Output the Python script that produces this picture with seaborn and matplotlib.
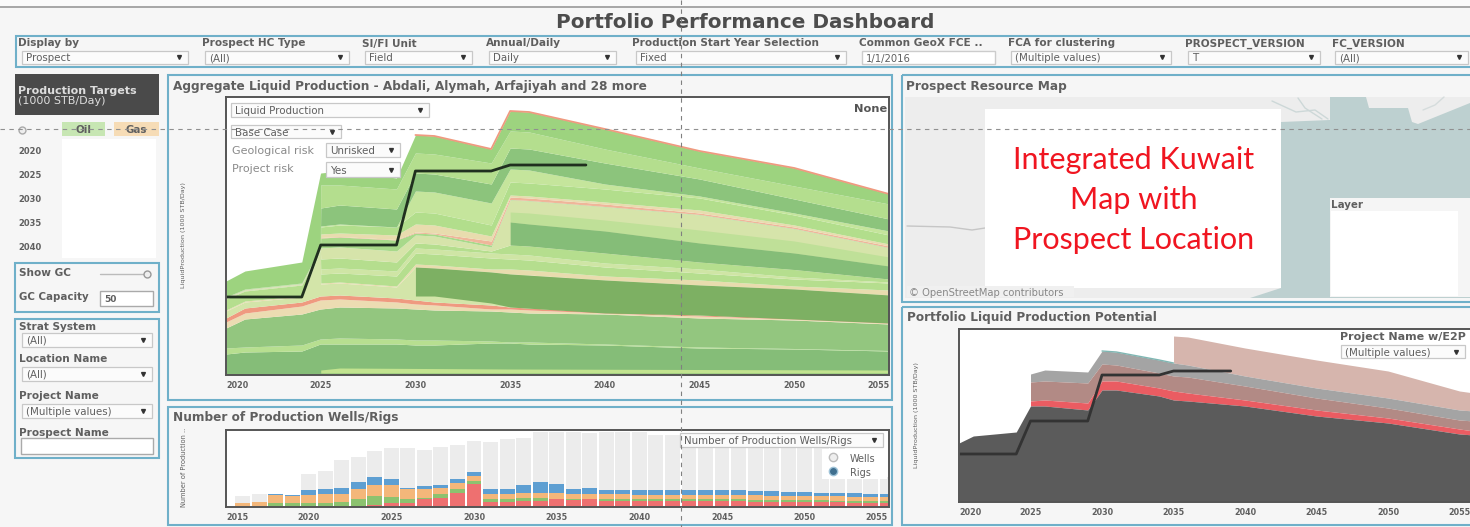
import matplotlib
matplotlib.use('Agg')
import matplotlib.pyplot as plt
from matplotlib.patches import Rectangle, Polygon
import numpy as np
import seaborn as sns

# ---- main chart, values (boundary heights of the stacked layers)
# 2024.98 is there so the layers start with a straight edge at 2025
years = [2020, 2021, 2024, 2024.98, 2025, 2026, 2029, 2030, 2031, 2034, 2035, 2036, 2040, 2045, 2050, 2055]
liq_a = [21, 23, 24, 31, 31, 31, 31, 30, 30, 32, 32, 31, 30, 27, 26, 24]
liq_b = [27, 28, 30, 36, 36, 37, 36, 35, 35, 34, 33, 33, 31, 28, 26.5, 24.5]
liq_c = [47, 56, 61, 66, 66, 68, 67, 66, 65, 64, 63, 62, 61, 57, 55, 51]
liq_d = [53, 62, 69, 75, 75, 76, 73, 71, 70, 66, 66, 65, 62, 59, 56, 52]
liq_e = [57, 67, 73, 79, 79, 80, 77, 75, 73, 70, 68, 67, 63, 60, 57, 53]
liq_f = [64, 73, 78, 125, 91, 92, 88, 108, 107, 103, 101, 100, 95, 90, 86, 80]
liq_g = [65, 74, 79, 125.2, 92, 93, 89, 111, 110, 106, 106, 105, 99, 95, 89, 85]
liq_h = [76, 84, 90, 125.4, 101, 102, 99, 122, 121, 117, 116, 115, 108, 102, 96, 92]
liq_i = [76.2, 84.2, 90.2, 125.6, 106, 107, 104, 127, 126, 122, 121, 120, 112, 106, 98, 93]
liq_j = [76.4, 84.4, 90.4, 125.8, 116, 117, 113, 132, 131, 124, 130, 129, 122, 113, 105.5, 96]
liq_k = [76.6, 84.6, 90.6, 126, 127, 128, 124, 140, 139, 128, 175, 174, 168, 160, 146, 127]
liq_k2 = [76.8, 84.8, 90.8, 126.2, 137, 138, 135, 142, 141, 130, 175.5, 174.5, 168.5, 160.5, 146.5, 127.5]
liq_l = [77, 85, 91, 126.4, 137.5, 138.5, 135.5, 143, 142, 134, 178, 177, 171, 162, 148, 129]
liq_m = [77.2, 85.2, 91.2, 126.6, 141, 142, 140, 151, 150, 139, 180, 179, 173, 165, 150, 131]
liq_n = [77.4, 85.4, 91.4, 126.8, 148, 150, 148, 163, 162, 150, 193, 192, 186, 177, 160, 140]
liq_n2 = [77.6, 85.6, 91.6, 127, 149, 151, 148, 184, 183, 172, 206, 205, 191, 179, 162, 144]
liq_o = [77.8, 85.8, 91.8, 127.2, 167, 170, 166, 202, 201, 191, 227, 226, 212, 196, 176, 156]
liq_p = [78, 86, 92, 127.4, 190, 190, 186, 222, 221, 212, 244, 243, 226, 207, 189, 171]
liq_t = [94, 104, 113, 201, 202, 204, 197, 240, 239, 226, 264, 263, 246, 224, 207, 181]

band1_years = [2030, 2031, 2034, 2035, 2040, 2045, 2050, 2055]
band1_low = [79, 79, 72, 68, 62, 60, 56, 52]
band1_top = [108, 107, 103, 101, 95, 90, 86, 80]
band2_years = [2035, 2036, 2040, 2045, 2050, 2055]
band2_low = [130, 129, 122, 113, 105.5, 96]
band2_top = [153, 151, 144, 132, 122, 109]
band3_top = [163, 162, 155, 145, 134, 118]
strip_years = [2025, 2026, 2035, 2055]
strip_low = [2, 2, 2, 2]
strip_top = [5, 7, 6, 5]

target_years = [2020, 2024, 2025, 2029, 2030, 2034, 2035, 2039]
target_main = [78, 78, 130, 130, 204, 204, 210, 210]
target_port = [48, 48, 81, 81, 127, 127, 131, 131]

# ---- portfolio potential chart
port_years = [2020, 2021, 2024, 2025, 2026, 2029, 2030, 2031, 2034, 2035, 2036, 2040, 2045, 2050, 2055, 2056]
port_dark = [59, 66, 70, 96, 96, 92, 112, 112, 106, 102, 101, 96, 86, 79, 68, 67]
rest_years = port_years[3:]
port_red = [101, 102, 99, 121, 121, 114, 111, 109, 102, 92, 84, 73, 71]
port_brown = [120, 121, 119, 138, 137, 129, 126, 125, 116, 104, 94, 82, 81]
port_gray = [128, 132, 130, 151, 150, 142, 139, 137, 126, 114, 104, 92, 91]
pink_years = port_years[9:]
port_pink = [166, 165, 154, 142, 131, 111, 109]

# ---- wells / rigs bars, cumulative tops
bar_years = list(range(2016, 2056))
wells = [11, 13, 13, 12, 33, 36, 47, 50, 56, 59, 59, 57, 60, 62, 66, 65, 68, 69, 75, 75,
         75, 74, 75, 75, 75, 72, 72, 73, 73, 72, 72, 71, 70, 69, 68, 66, 60, 50, 42, 30]
rig_blue = [0, 0, 13, 12, 17, 18, 19, 25, 30, 28, 19, 21, 22, 28, 35, 18, 18, 22, 25, 23,
            18, 19, 17, 17, 17, 17, 17, 17, 17, 17, 17, 16, 16, 15, 15, 14, 14, 14, 13, 13]
rig_orange = [4, 5, 12, 11, 12, 13, 13, 18, 22, 22, 18, 18, 19, 24, 31, 13, 13, 14, 14, 14,
              13, 13, 13, 13, 12, 12, 12, 12, 12, 12, 12, 12, 11, 11, 11, 11, 11, 10, 10, 10]
rig_green = [0, 0, 4, 4, 4, 4, 5, 8, 11, 10, 8, 9, 13, 18, 26, 8, 8, 9, 9, 8,
             8, 8, 8, 8, 8, 8, 8, 8, 8, 8, 8, 7, 7, 7, 7, 7, 6, 6, 6, 6]
rig_red = [0, 0, 0, 0, 0, 0, 0, 0, 2, 4, 4, 8, 9, 14, 23, 5, 5, 6, 6, 8,
           7, 8, 6, 6, 6, 6, 6, 6, 6, 6, 6, 5, 5, 5, 5, 5, 5, 4, 4, 4]

# ---- dashboard text
filters = [('Display by', 'Prospect', 18, 22, 188), ('Prospect HC Type', '(All)', 202, 205, 349),
           ('SI/FI Unit', 'Field', 362, 365, 472), ('Annual/Daily', 'Daily', 486, 489, 616),
           ('Production Start Year Selection', 'Fixed', 632, 636, 846),
           ('FCA for clustering', '(Multiple values)', 1008, 1011, 1171),
           ('PROSPECT_VERSION', 'T', 1185, 1188, 1320), ('FC_VERSION', '(All)', 1332, 1335, 1468)]
target_labels = ['2020', '2025', '2030', '2035', '2040']
side_filters = [('Strat System', '(All)', 326, 333), ('Location Name', '(All)', 358, 367),
                ('Project Name', '(Multiple values)', 395, 404)]

W, H = 1470, 527
GREY = '#5f5f5f'
BLUE = '#6fb0c9'
sns.set_theme(style='white')
plt.rcParams['font.family'] = ['DejaVu Sans']

fig = plt.figure(figsize=(W / 100, H / 100), dpi=100, facecolor='#f6f6f6')


def px_axes(x0, y0, x1, y1, z=1):
    return fig.add_axes([x0 / W, 1 - y1 / H, (x1 - x0) / W, (y1 - y0) / H], zorder=z)


def ui_axes(z):
    a = px_axes(0, 0, W, H, z)
    a.set_xlim(0, W)
    a.set_ylim(H, 0)
    a.axis('off')
    return a


bg = ui_axes(0)
top = ui_axes(5)


def rect(a, x0, y0, x1, y1, fc='none', ec='none', lw=1.0, z=1):
    a.add_patch(Rectangle((x0, y0), x1 - x0, y1 - y0, fc=fc, ec=ec, lw=lw, zorder=z))


def label(a, x, y, s, size=7.8, color=GREY, weight='bold', **kw):
    a.text(x, y, s, fontsize=size, color=color, fontweight=weight, va='center_baseline', **kw)


def dropdown(a, x0, y0, x1, y1, s):
    rect(a, x0, y0, x1, y1, fc='#fbfbfb', ec='#c8c8c8', lw=0.9, z=3)
    a.text(x0 + 4, (y0 + y1) / 2, s, fontsize=7.4, color=GREY, va='center_baseline', zorder=4)
    a.plot([x1 - 9], [(y0 + y1) / 2], marker='v', ms=2.8, color='#333333', zorder=4)


def style_chart(ax, xlim, ylim, ticks):
    ax.set_xlim(*xlim)
    ax.set_ylim(*ylim)
    ax.set_yticks([])
    ax.set_xlabel('')
    ax.set_ylabel('')
    ax.set_xticks(ticks)
    ax.set_xticklabels(ticks, fontsize=5.8, fontweight='bold', color=GREY)
    ax.tick_params(axis='x', length=0, pad=4.5)
    for s in ax.spines.values():
        s.set_visible(True)
        s.set_color('#555555')
        s.set_linewidth(1.4)


# header
rect(bg, 0, 6, W, 8, fc='#a8a8a8')
rect(bg, 0, 0, W, 6, fc='#fafafa')
label(bg, 745, 21, 'Portfolio Performance Dashboard', size=14.4, color='#4d4d4d', ha='center')
rect(bg, 16, 36, W + 5, 67, fc='#f6f6f6', ec=BLUE, lw=1.5)
for name, val, lx, x0, x1 in filters:
    label(bg, lx, 42.5, name, size=7.6)
    dropdown(bg, x0, 50.5, x1, 64, val)
label(bg, 859, 42.5, 'Common GeoX FCE ..', size=7.6)
rect(bg, 862, 50.5, 995, 64, fc='white', ec='#cccccc', z=3)
bg.text(866, 58, '1/1/2016', fontsize=7.2, color=GREY, va='center_baseline', zorder=4)

# left column
rect(bg, 15, 74, 159, 115, fc='#4a4a4a')
label(bg, 18, 90, 'Production Targets', size=8, color='#dddddd')
bg.text(18, 100, '(1000 STB/Day)', fontsize=8, color='#dddddd', va='center_baseline')
rect(bg, 62, 122, 105, 136, fc='#c7e6b3')
rect(bg, 114, 122, 159, 136, fc='#f6dcb6')
label(bg, 83.5, 129, 'Oil', ha='center', size=7.4)
label(bg, 136.5, 129, 'Gas', ha='center', size=7.4)
bg.plot([22], [130], marker='o', ms=5, mfc='#eeeeee', mec='#aaaaaa')
rect(bg, 62, 139, 156, 258, fc='white')
for i, t in enumerate(target_labels):
    label(bg, 18, 151 + i * 24, t, size=6)

rect(bg, 15, 263, 159, 312, ec=BLUE, lw=1.5)
label(bg, 19, 272, 'Show GC', size=7.6)
bg.plot([100, 150], [274, 274], color='#bbbbbb', lw=1)
bg.plot([147], [274], marker='o', ms=5, mfc='#eeeeee', mec='#999999')
label(bg, 19, 296, 'GC Capacity', size=7.4)
rect(bg, 100, 291, 153, 306, fc='white', ec='#aaaaaa')
label(bg, 104, 299, '50', size=6.5)

rect(bg, 15, 319, 159, 458, ec=BLUE, lw=1.5)
for name, val, ly, by in side_filters:
    label(bg, 19, ly, name, size=7.6)
    dropdown(bg, 22, by, 152, by + 13.5, val)
label(bg, 19, 432, 'Prospect Name', size=7.6)
rect(bg, 21, 438, 153, 454, fc='white', ec='#aaaaaa')

# main panel
rect(bg, 168, 75, 892, 400, ec=BLUE, lw=1.5)
label(bg, 173, 85, 'Aggregate Liquid Production - Abdali, Alymah, Arfajiyah and 28 more', size=8.7)
bg.text(184, 235, 'LiquidProduction (1000 STB/Day)', fontsize=4.6, color=GREY, rotation=90, ha='center', va='center')

ax = px_axes(226, 97.5, 889, 375)
layers = [([0] * len(years), liq_a, '#85bd78'), (liq_a, liq_b, '#b7df90'), (liq_b, liq_c, '#93c67f'),
          (liq_c, liq_d, '#ecdcb2'), (liq_d, liq_e, '#ef9a80'), (liq_e, liq_f, '#d3e5a9'),
          (liq_f, liq_g, '#e8dcae'), (liq_g, liq_h, '#b5de8e'), (liq_h, liq_i, '#cfe5a5'),
          (liq_i, liq_j, '#b5de8e'), (liq_j, liq_k, '#d6e4aa'), (liq_k, liq_k2, '#a8d98a'),
          (liq_k2, liq_l, '#efb69a'), (liq_l, liq_m, '#e8dcae'), (liq_m, liq_n, '#b2de8c'),
          (liq_n, liq_n2, '#c5e59c'), (liq_n2, liq_o, '#8cc47c'), (liq_o, liq_p, '#b4de8e'),
          (liq_p, liq_t, '#9dd37f')]
for low, up, col in layers:
    ax.fill_between(years, low, up, color=col, lw=0)
ax.fill_between(band1_years, band1_low, band1_top, color='#7db063', lw=0)
ax.fill_between(band2_years, band2_top, band3_top, color='#bfe098', lw=0)
ax.fill_between(band2_years, band2_low, band2_top, color='#85bd78', lw=0)
ax.fill_between(strip_years, strip_low, strip_top, color='#c2e38f', lw=0)
sns.lineplot(x=years[7:], y=liq_t[7:], color='#ef9a80', linewidth=1.3, errorbar=None, ax=ax)
sns.lineplot(x=target_years, y=target_main, color='#20301f', linewidth=2, errorbar=None, ax=ax)
style_chart(ax, (2020, 2055), (0, 277.5), list(range(2020, 2056, 5)))
ax.get_xticklabels()[0].set_ha('left')
ax.get_xticklabels()[-1].set_ha('right')

dropdown(top, 231, 103, 429, 117, 'Liquid Production')
dropdown(top, 231, 125, 341, 138, 'Base Case')
label(top, 232, 150, 'Geological risk', size=8, color='#8a8a8a', weight='normal')
dropdown(top, 326, 143, 400, 157, 'Unrisked')
label(top, 232, 168, 'Project risk', size=8, color='#8a8a8a', weight='normal')
dropdown(top, 326, 162, 400, 177, 'Yes')
label(top, 887, 108, 'None', size=8.2, color='#555555', ha='right')

# wells panel
rect(bg, 168, 407, 892, 525, ec=BLUE, lw=1.5)
label(bg, 173, 416, 'Number of Production Wells/Rigs', size=8.7)
bg.text(184, 467, 'Number of Production ..', fontsize=4.8, color=GREY, rotation=90, ha='center', va='center')

ax2 = px_axes(226, 429.5, 889, 506.5)
for vals, col in [(wells, '#ececec'), (rig_blue, '#5e9fd2'), (rig_orange, '#f4b77a'),
                  (rig_green, '#8cc26f'), (rig_red, '#ee7070')]:
    sns.barplot(x=bar_years, y=vals, color=col, saturation=1, width=0.9, native_scale=True,
                errorbar=None, linewidth=0, ax=ax2)
style_chart(ax2, (2015, 2055.1), (0, 77), list(range(2015, 2056, 5)))
ax2.get_xticklabels()[0].set_ha('left')
ax2.get_xticklabels()[-1].set_ha('right')
dropdown(top, 680, 433, 883, 447, 'Number of Production Wells/Rigs')
rect(top, 822, 449, 887, 479, fc='#ffffff', z=2)
top.plot([833], [457], marker='o', ms=6, mfc='#eeeeee', mec='#bbbbbb', zorder=4)
top.plot([833], [471], marker='o', ms=6, mfc='#3f6f8f', mec='#9fc3d8', zorder=4)
label(top, 850, 457.5, 'Wells', size=7, weight='normal')
label(top, 850, 471.5, 'Rigs', size=7, weight='normal')

# map panel
rect(bg, 902, 75, W + 5, 302, ec=BLUE, lw=1.5)
label(bg, 906, 85, 'Prospect Resource Map', size=8.7)
rect(bg, 905, 97, W, 298, fc='#ededed')
bg.add_patch(Polygon([(1250, 298), (1281, 288), (1281, 122), (1330, 120), (1330, 97), (1366, 97),
                      (1369, 108), (1408, 108), (1412, 122), (1418, 124), (1470, 103), (1470, 298)],
                     fc='#bdd0d0', ec='none', zorder=2))
bg.plot([907, 950, 972, 985], [226, 227, 230, 228], color='#c6c6c6', lw=1, zorder=3)
bg.plot([1272, 1296, 1315, 1328], [101, 112, 110, 119], color='#cdd8d8', lw=1, zorder=3)
bg.plot([1298, 1305, 1322], [98, 108, 119], color='#cdd8d8', lw=1, zorder=3)
bg.plot([1423, 1435, 1444], [110, 105, 97], color='#d5dcdc', lw=1, zorder=3)
rect(bg, 985, 109, 1281, 288, fc='white', z=4)
for y, s in [(160, 'Integrated Kuwait'), (200, 'Map with'), (240, 'Prospect Location')]:
    bg.text(1134, y, s, fontsize=22, color='#f01520', family='Lato', ha='center', va='center', zorder=5)
rect(bg, 1330, 198, W, 297, fc='#f5f5f5', z=4)
rect(bg, 1331, 211, 1458, 296, fc='white', z=5)
label(bg, 1331, 204, 'Layer', size=7.4, zorder=6)
rect(bg, 907, 286, 1074, 297, fc='#f0f0f0', z=4)
bg.text(909, 291.5, '© OpenStreetMap contributors', fontsize=7.2, color='#888888', va='center_baseline', zorder=5)

# portfolio panel
rect(bg, 902, 307, W + 5, 525, ec=BLUE, lw=1.5)
label(bg, 907, 316, 'Portfolio Liquid Production Potential', size=8.7)
bg.text(917, 415, 'LiquidProduction (1000 STB/Day)', fontsize=4.6, color=GREY, rotation=90, ha='center', va='center')

ax3 = px_axes(959, 329, W + 1, 502)
ax3.fill_between(pink_years, port_gray[6:], port_pink, color='#d6b5ad', lw=0)
ax3.fill_between(rest_years, port_brown, port_gray, color='#a4a4a4', lw=0)
ax3.fill_between(rest_years, port_red, port_brown, color='#b28a85', lw=0)
ax3.fill_between(rest_years, port_dark[3:], port_red, color='#ea5c62', lw=0)
ax3.fill_between(port_years, 0, port_dark, color='#5b5b5b', lw=0)
sns.lineplot(x=port_years[6:10], y=port_gray[3:7], color='#7fb7b3', linewidth=1, errorbar=None, ax=ax3)
sns.lineplot(x=target_years, y=target_port, color='#333333', linewidth=2, errorbar=None, ax=ax3)
style_chart(ax3, (2020, 2055.8), (0, 173), list(range(2020, 2056, 5)))
ax3.get_xticklabels()[0].set_ha('left')
label(top, 1466, 336, 'Project Name w/E2P', size=8, ha='right')
dropdown(top, 1341, 345, 1465, 358, '(Multiple values)')

# dashed guides over everything
top.plot([0, W], [129, 129], color='#909090', lw=0.8, ls=(0, (4, 4)), zorder=8)
top.plot([681, 681], [0, H], color='#808080', lw=0.8, ls=(0, (4, 4)), zorder=8)

fig.savefig('out.png', dpi=100, facecolor=fig.get_facecolor())
